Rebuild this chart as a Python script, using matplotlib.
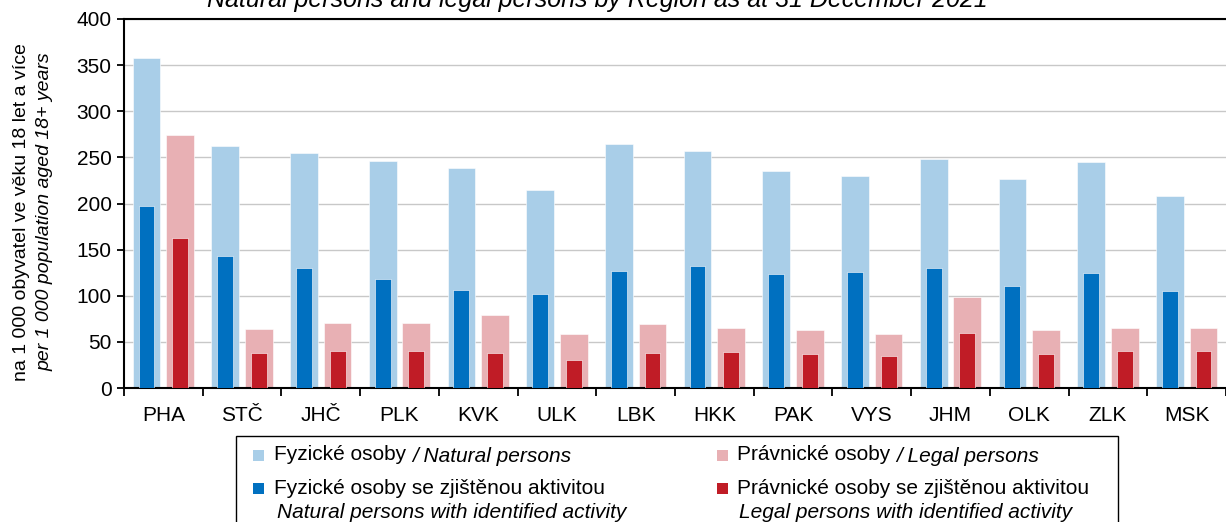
import matplotlib
matplotlib.use("Agg")
import matplotlib.pyplot as plt
from matplotlib.patches import Rectangle
import numpy as np

plt.rcParams['font.family'] = ['Liberation Sans', 'DejaVu Sans']

regions = ["PHA", "STČ", "JHČ", "PLK", "KVK", "ULK", "LBK", "HKK", "PAK", "VYS", "JHM", "OLK", "ZLK", "MSK"]
natural = [358, 262, 255, 246, 239, 215, 265, 257, 235, 230, 248, 227, 245, 208]
natural_active = [197, 143, 130, 118, 106, 102, 127, 132, 124, 126, 130, 111, 125, 105]
legal = [274, 64, 70, 70, 79, 59, 69, 65, 63, 58, 99, 63, 65, 65]
legal_active = [163, 38, 40, 40, 38, 30, 38, 39, 37, 35, 60, 37, 40, 40]

c_nat = "#a9cee8"
c_nat_act = "#0070c0"
c_leg = "#e8b0b4"
c_leg_act = "#c01c26"

FS = 15

W, H = 1226, 522
fig = plt.figure(figsize=(W / 100, H / 100), dpi=100)
ax = fig.add_axes([124 / W, 1 - 388 / H, 1 - 124 / W, (388 - 19) / H])

x = np.arange(len(regions))
off = 0.214
ax.bar(x - off, natural, width=0.352, color=c_nat, edgecolor="white", linewidth=0.4, zorder=2)
ax.bar(x - off, natural_active, width=0.2, color=c_nat_act, edgecolor="white", linewidth=0.4, zorder=3)
ax.bar(x + off, legal, width=0.352, color=c_leg, edgecolor="white", linewidth=0.4, zorder=2)
ax.bar(x + off, legal_active, width=0.2, color=c_leg_act, edgecolor="white", linewidth=0.4, zorder=3)

ax.set_xlim(-0.5, -0.5 + (W - 124) / 79.46)
ax.set_ylim(0, 400)
ax.set_yticks(np.arange(0, 401, 50))
ax.yaxis.grid(True, color="#c8c8c8", linewidth=1.0, zorder=0)
ax.set_axisbelow(True)
ax.set_xticks(x)
ax.set_xticklabels(regions, fontsize=FS)
ax.set_xticks(np.arange(-0.5, len(regions), 1.0), minor=True)
ax.tick_params(axis="x", which="major", length=0, pad=13)
ax.tick_params(axis="x", which="minor", length=6, width=1.3, direction="out", color="black")
ax.tick_params(axis="y", length=5, width=1.3, direction="out", labelsize=FS, pad=4)
for s in ["left", "bottom", "top"]:
    ax.spines[s].set_color("black")
    ax.spines[s].set_linewidth(1.5)
ax.spines["right"].set_visible(False)

# y-axis label (two lines)
fig.text(22 / W, 1 - 212 / H, "na 1 000 obyvatel ve věku 18 let a více", rotation=90,
         ha="center", va="center", fontsize=14)
fig.text(45 / W, 1 - 212 / H, "per 1 000 population aged 18+ years", rotation=90,
         ha="center", va="center", fontsize=14, style="italic")

# title (mostly cut off at the top, as in the original)
fig.text(207 / W, 1 - 7 / H, "Natural persons and legal persons by Region as at 31 December 2021",
         ha="left", va="baseline", fontsize=18, style="italic")

# legend box
fig.patches.append(Rectangle((236 / W, -0.05), (1118 - 236) / W, (1 - 436 / H) + 0.05,
                             transform=fig.transFigure, facecolor="white", edgecolor="black",
                             linewidth=1.0, zorder=5))

renderer = fig.canvas.get_renderer()


def sq(xc, yc, color):
    s = 11
    fig.patches.append(Rectangle(((xc - s / 2) / W, 1 - (yc + s / 2) / H), s / W, s / H,
                                 transform=fig.transFigure, facecolor=color, edgecolor="none", zorder=6))


def two_part(xl, yc, normal, italic):
    t = fig.text(xl / W, 1 - yc / H, normal, ha="left", va="center", fontsize=FS, zorder=7)
    bb = t.get_window_extent(renderer)
    fig.text((bb.x1 + 6) / W, 1 - (yc + 2) / H, italic, ha="left", va="center",
             fontsize=FS, style="italic", zorder=7)


sq(258, 455, c_nat)
two_part(274, 455, "Fyzické osoby", "/ Natural persons")
sq(258, 488, c_nat_act)
fig.text(274 / W, 1 - 488 / H, "Fyzické osoby se zjištěnou aktivitou", ha="left", va="center",
         fontsize=FS, zorder=7)
fig.text(277 / W, 1 - 512 / H, "Natural persons with identified activity", ha="left", va="center",
         fontsize=FS, style="italic", zorder=7)

sq(722, 455, c_leg)
two_part(737, 455, "Právnické osoby", "/ Legal persons")
sq(722, 488, c_leg_act)
fig.text(737 / W, 1 - 488 / H, "Právnické osoby se zjištěnou aktivitou", ha="left", va="center",
         fontsize=FS, zorder=7)
fig.text(739 / W, 1 - 512 / H, "Legal persons with identified activity", ha="left", va="center",
         fontsize=FS, style="italic", zorder=7)

fig.savefig("out.png", dpi=100)
